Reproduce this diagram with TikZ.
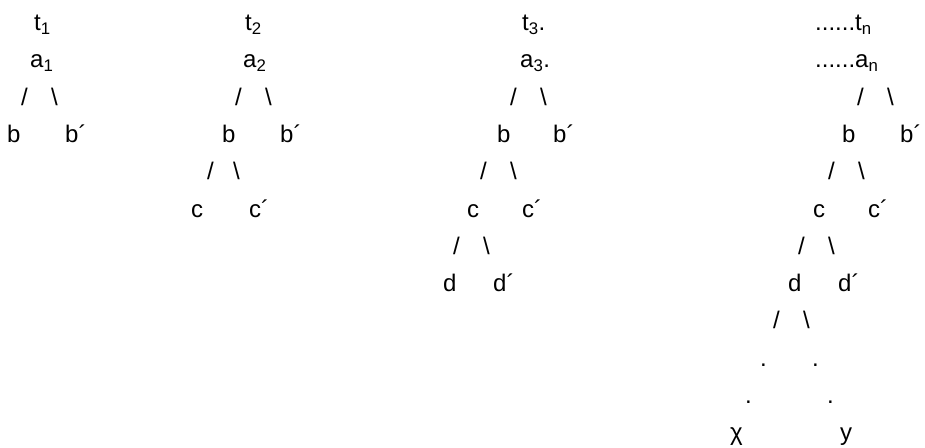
\documentclass[tikz,border=0pt]{standalone}
\usepackage{fontspec}
\setmainfont{Liberation Sans}
\usepackage{tikz}

\begin{document}
\begin{tikzpicture}[x=1pt, y=-1pt, lbl/.style={inner sep=0pt, anchor=base west, font=\fontsize{24}{28}\selectfont}]

  \useasboundingbox (0,0) rectangle (925,447);

  % First tree
  \node[lbl] (T1) at (34,30.5) {t\textsubscript{1}};
  \node[lbl] (A1) at (30,67.8) {a\textsubscript{1}};
  \node[lbl] (L1) at (21,105.1) {/};
  \node[lbl] (R1) at (51,105.1) {\textbackslash};
  \node[lbl] (B1) at (7,142.4) {b};
  \node[lbl] (Bp1) at (65,142.4) {b´};

  % Second tree
  \node[lbl] (T2) at (245,30.5) {t\textsubscript{2}};
  \node[lbl] (A2) at (243,67.8) {a\textsubscript{2}};
  \node[lbl] (L2) at (235,105.1) {/};
  \node[lbl] (R2) at (265,105.1) {\textbackslash};
  \node[lbl] (B2) at (222,142.4) {b};
  \node[lbl] (Bp2) at (280,142.4) {b´};
  \node[lbl] (LB2) at (207,179.7) {/};
  \node[lbl] (RB2) at (233,179.7) {\textbackslash};
  \node[lbl] (C2) at (191,217) {c};
  \node[lbl] (Cp2) at (249,217) {c´};

  % Third tree
  \node[lbl] (T3) at (522,30.5) {t\textsubscript{3}.};
  \node[lbl] (A3) at (520,67.8) {a\textsubscript{3}.};
  \node[lbl] (L3) at (510,105.1) {/};
  \node[lbl] (R3) at (540,105.1) {\textbackslash};
  \node[lbl] (B3) at (497,142.4) {b};
  \node[lbl] (Bp3) at (553,142.4) {b´};
  \node[lbl] (LB3) at (480,179.7) {/};
  \node[lbl] (RB3) at (510,179.7) {\textbackslash};
  \node[lbl] (C3) at (467,217) {c};
  \node[lbl] (Cp3) at (522,217) {c´};
  \node[lbl] (LC3) at (453,254.3) {/};
  \node[lbl] (RC3) at (483,254.3) {\textbackslash};
  \node[lbl] (D3) at (443,291.6) {d};
  \node[lbl] (Dp3) at (493,291.6) {d´};

  % Last tree
  \node[lbl] (Tn) at (815,30.5) {......t\textsubscript{n}};
  \node[lbl] (An) at (815,67.8) {......a\textsubscript{n}};
  \node[lbl] (Ln) at (857,105.1) {/};
  \node[lbl] (Rn) at (887,105.1) {\textbackslash};
  \node[lbl] (Bn) at (842,142.4) {b};
  \node[lbl] (Bpn) at (900,142.4) {b´};
  \node[lbl] (LBn) at (828,179.7) {/};
  \node[lbl] (RBn) at (858,179.7) {\textbackslash};
  \node[lbl] (Cn) at (813,217) {c};
  \node[lbl] (Cpn) at (868,217) {c´};
  \node[lbl] (LCn) at (798,254.3) {/};
  \node[lbl] (RCn) at (828,254.3) {\textbackslash};
  \node[lbl] (Dn) at (788,291.6) {d};
  \node[lbl] (Dpn) at (838,291.6) {d´};
  \node[lbl] (LDn) at (773,328.9) {/};
  \node[lbl] (RDn) at (803,328.9) {\textbackslash};
  \node[lbl] (P1) at (760,366.2) {.};
  \node[lbl] (Q1) at (812,366.2) {.};
  \node[lbl] (P2) at (745,403.5) {.};
  \node[lbl] (Q2) at (827,403.5) {.};
  \node[lbl] (X) at (730,440.8) {χ};
  \node[lbl] (Y) at (840,440.8) {y};

\end{tikzpicture}
\end{document}
